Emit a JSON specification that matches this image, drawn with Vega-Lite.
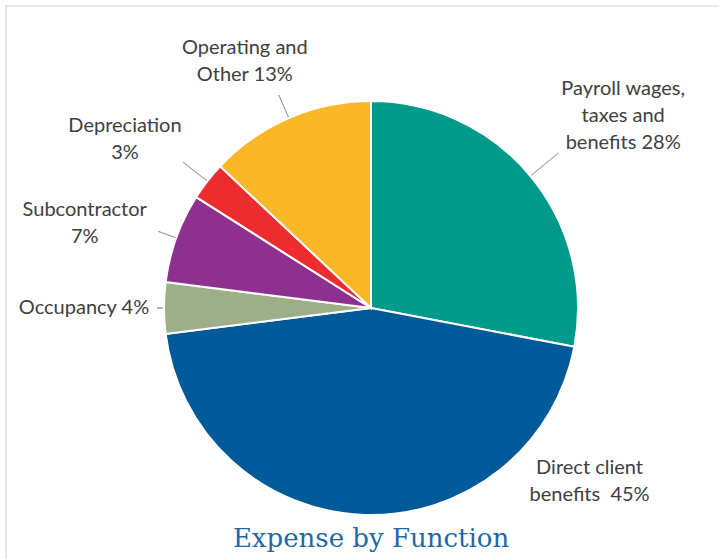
{
  "$schema": "https://vega.github.io/schema/vega-lite/v6.json",
  "width": 730,
  "height": 604,
  "autosize": "none",
  "padding": {"left": 6, "top": 6, "right": -17, "bottom": -51},
  "background": "white",
  "view": {"stroke": "#e0e0e0", "strokeWidth": 1.5, "fill": "white"},
  "config": {"view": {"stroke": "#e0e0e0", "strokeWidth": 1.5}},
  "title": {
    "text": "Expense by Function",
    "orient": "bottom",
    "offset": -75,
    "font": "DejaVu Serif",
    "fontSize": 26,
    "fontWeight": "normal",
    "color": "#1D6AA5",
    "baseline": "alphabetic",
    "anchor": "middle"
  },
  "data": {
    "values": [
      {"name": "Payroll wages, taxes and benefits", "label": ["Payroll wages,", "taxes and", "benefits 28%"], "value": 28, "order": 1},
      {"name": "Direct client benefits", "label": ["Direct client", "benefits \u00a045%"], "value": 45, "order": 2},
      {"name": "Occupancy", "label": ["Occupancy 4%"], "value": 4, "order": 3},
      {"name": "Subcontractor", "label": ["Subcontractor", "7%"], "value": 7, "order": 4},
      {"name": "Depreciation", "label": ["Depreciation", "3%"], "value": 3, "order": 5},
      {"name": "Operating and Other", "label": ["Operating and", "Other 13%"], "value": 13, "order": 6}
    ]
  },
  "encoding": {
    "theta": {"field": "value", "type": "quantitative", "stack": true},
    "order": {"field": "order", "type": "quantitative"},
    "detail": {"field": "name", "type": "nominal"}
  },
  "layer": [
    {
      "mark": {"type": "arc", "outerRadius": 207, "stroke": "white", "strokeWidth": 2},
      "encoding": {
        "color": {
          "field": "name",
          "type": "nominal",
          "legend": null,
          "scale": {
            "domain": ["Payroll wages, taxes and benefits", "Direct client benefits", "Occupancy", "Subcontractor", "Depreciation", "Operating and Other"],
            "range": ["#009A8A", "#005A9A", "#9CAF88", "#8E318E", "#EC2D30", "#FBB726"]
          }
        }
      }
    },
    {
      "mark": {"type": "arc", "radius": 243, "radius2": 208, "padAngle": 3, "fillOpacity": 0, "stroke": "#A6A6A6", "strokeWidth": 1},
      "encoding": {"strokeOpacity": {"condition": {"test": "datum.order === 1", "value": 1}, "value": 0}}
    },
    {
      "mark": {"type": "arc", "radius": 214, "radius2": 208, "padAngle": 3, "fillOpacity": 0, "stroke": "#A6A6A6", "strokeWidth": 1},
      "encoding": {"strokeOpacity": {"condition": {"test": "datum.order === 3", "value": 1}, "value": 0}}
    },
    {
      "mark": {"type": "arc", "radius": 226, "radius2": 208, "padAngle": 3, "fillOpacity": 0, "stroke": "#A6A6A6", "strokeWidth": 1},
      "encoding": {"strokeOpacity": {"condition": {"test": "datum.order === 4", "value": 1}, "value": 0}}
    },
    {
      "mark": {"type": "arc", "radius": 238, "radius2": 208, "padAngle": 3, "fillOpacity": 0, "stroke": "#A6A6A6", "strokeWidth": 1},
      "encoding": {"strokeOpacity": {"condition": {"test": "datum.order === 5", "value": 1}, "value": 0}}
    },
    {
      "mark": {"type": "arc", "radius": 232, "radius2": 208, "padAngle": 3, "fillOpacity": 0, "stroke": "#A6A6A6", "strokeWidth": 1},
      "encoding": {"strokeOpacity": {"condition": {"test": "datum.order === 6", "value": 1}, "value": 0}}
    },
    {
      "mark": {"type": "text", "radius": 300, "dx": 21, "dy": -28, "font": "Lato", "fontSize": 20, "fill": "#404040", "lineHeight": 27, "align": "center", "baseline": "middle"},
      "encoding": {"text": {"condition": {"test": "datum.order === 1", "field": "label", "type": "nominal"}, "value": ""}}
    },
    {
      "mark": {"type": "text", "radius": 173, "dx": 224, "dy": -13, "font": "Lato", "fontSize": 20, "fill": "#404040", "lineHeight": 27, "align": "center", "baseline": "middle"},
      "encoding": {"text": {"condition": {"test": "datum.order === 2", "field": "label", "type": "nominal"}, "value": ""}}
    },
    {
      "mark": {"type": "text", "radius": 287, "dx": 0, "dy": 0, "font": "Lato", "fontSize": 20, "fill": "#404040", "lineHeight": 27, "align": "center", "baseline": "middle"},
      "encoding": {"text": {"condition": {"test": "datum.order === 3", "field": "label", "type": "nominal"}, "value": ""}}
    },
    {
      "mark": {"type": "text", "radius": 300, "dx": -4, "dy": 4, "font": "Lato", "fontSize": 20, "fill": "#404040", "lineHeight": 27, "align": "center", "baseline": "middle"},
      "encoding": {"text": {"condition": {"test": "datum.order === 4", "field": "label", "type": "nominal"}, "value": ""}}
    },
    {
      "mark": {"type": "text", "radius": 300, "dx": -9, "dy": 2, "font": "Lato", "fontSize": 20, "fill": "#404040", "lineHeight": 27, "align": "center", "baseline": "middle"},
      "encoding": {"text": {"condition": {"test": "datum.order === 5", "field": "label", "type": "nominal"}, "value": ""}}
    },
    {
      "mark": {"type": "text", "radius": 275, "dx": -17, "dy": -8, "font": "Lato", "fontSize": 20, "fill": "#404040", "lineHeight": 27, "align": "center", "baseline": "middle"},
      "encoding": {"text": {"condition": {"test": "datum.order === 6", "field": "label", "type": "nominal"}, "value": ""}}
    }
  ]
}
